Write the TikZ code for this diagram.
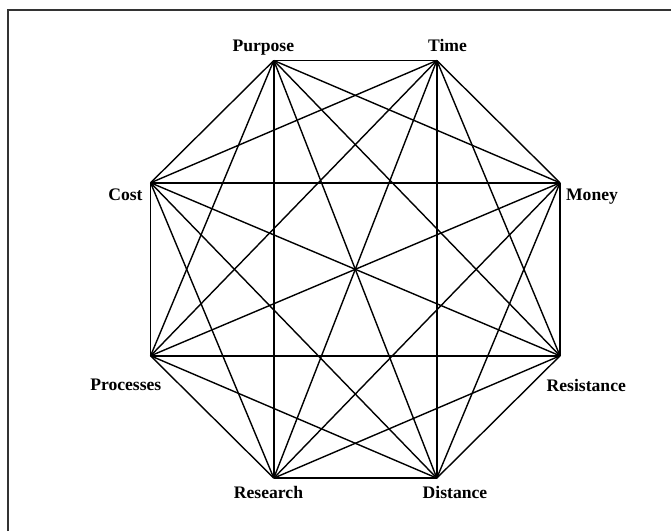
\documentclass[tikz,border=0pt]{standalone}
\usepackage{fontspec}
\setmainfont{Liberation Serif}
\begin{document}
\begin{tikzpicture}[x=1pt,y=-1pt,
  edge/.style={line width=1.4pt,black},
  lbl/.style={font=\fontsize{17.6}{20}\selectfont\bfseries,anchor=base,inner sep=0pt},
  frame/.style={line width=1.2pt,black!80}]
\useasboundingbox (0,0) rectangle (671,531);
\draw[frame] (8,531) -- (8,10) -- (671,10);
\coordinate (v1) at (273.8,60.5);
\coordinate (v2) at (436.8,60.5);
\coordinate (v3) at (560,182.8);
\coordinate (v4) at (560,355.8);
\coordinate (v5) at (436.8,478.1);
\coordinate (v6) at (273.8,478.1);
\coordinate (v7) at (150.6,355.8);
\coordinate (v8) at (150.6,182.8);
\foreach \i in {1,...,7}{
  \pgfmathtruncatemacro{\s}{\i+1}
  \foreach \j in {\s,...,8}{
    \draw[edge,line join=round] (v\i) -- (v\j);
  }
}
\node[lbl] (lp) at (263.3,51.7) {Purpose};
\node[lbl] (lt) at (447.5,51.7) {Time};
\node[lbl] (lc) at (125.5,200) {Cost};
\node[lbl] (lm) at (592,200) {Money};
\node[lbl] (lpr) at (125.8,390.7) {Processes};
\node[lbl] (lr) at (586.3,391.7) {Resistance};
\node[lbl] (lre) at (268.5,498.3) {Research};
\node[lbl] (ld) at (455,498.3) {Distance};
\end{tikzpicture}
\end{document}
